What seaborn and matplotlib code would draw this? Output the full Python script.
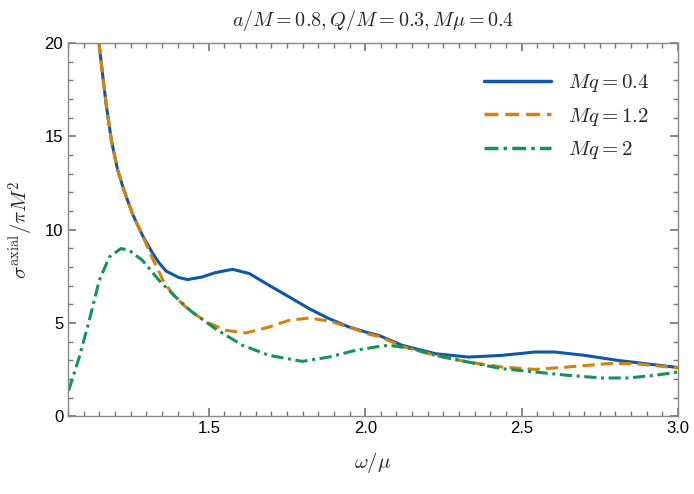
import numpy as np
import pandas as pd
import matplotlib
matplotlib.use('Agg')
import matplotlib.pyplot as plt
from matplotlib.ticker import MultipleLocator
import seaborn as sns

# values
x_q04 = [1.135, 1.148, 1.160, 1.173, 1.189, 1.208, 1.229, 1.256, 1.288, 1.311, 1.320, 1.342,
         1.364, 1.404, 1.432, 1.479, 1.521, 1.576, 1.630, 1.693, 1.757, 1.821, 1.884,
         1.948, 2.012, 2.044, 2.118, 2.224, 2.330, 2.436, 2.543, 2.606, 2.702, 2.808,
         2.914, 3.000]
y_q04 = [22.0, 20.16, 18.38, 16.59, 14.75, 13.25, 12.10, 10.85, 9.70, 9.02, 8.75, 8.20,
         7.78, 7.44, 7.33, 7.47, 7.70, 7.88, 7.65, 7.02, 6.40, 5.77, 5.24,
         4.79, 4.47, 4.34, 3.81, 3.36, 3.18, 3.27, 3.45, 3.45, 3.27, 3.00,
         2.79, 2.62]

x_q12 = [1.135, 1.148, 1.160, 1.173, 1.189, 1.208, 1.229, 1.256, 1.288, 1.311, 1.320, 1.354,
         1.383, 1.417, 1.447, 1.492, 1.555, 1.619, 1.693, 1.757, 1.821, 1.884, 1.948,
         2.012, 2.044, 2.118, 2.224, 2.330, 2.436, 2.543, 2.649, 2.777, 2.861, 3.000]
y_q12 = [22.0, 20.16, 18.38, 16.59, 14.75, 13.25, 12.10, 10.85, 9.70, 8.80, 8.47, 7.29,
         6.58, 6.00, 5.58, 5.06, 4.61, 4.47, 4.79, 5.15, 5.27, 5.11, 4.79,
         4.40, 4.29, 3.75, 3.27, 2.91, 2.65, 2.52, 2.65, 2.83, 2.83, 2.60]

x_q2 = [1.052, 1.086, 1.118, 1.150, 1.182, 1.219, 1.245, 1.288, 1.311, 1.341, 1.364, 1.394,
        1.443, 1.524, 1.608, 1.693, 1.799, 1.884, 1.969, 2.044, 2.075, 2.150,
        2.224, 2.330, 2.436, 2.543, 2.649, 2.756, 2.840, 2.925, 3.000]
y_q2 = [1.39, 3.18, 5.15, 7.29, 8.54, 8.99, 8.90, 8.36, 7.90, 7.29, 6.90, 6.40,
        5.64, 4.66, 3.81, 3.27, 2.95, 3.18, 3.54, 3.75, 3.81, 3.63,
        3.27, 2.91, 2.56, 2.38, 2.20, 2.06, 2.06, 2.20, 2.38]

labels = [r'$Mq=0.4$', r'$Mq=1.2$', r'$Mq=2$']
colors = ['#0f58a8', '#d4820a', '#14935a']

df = pd.concat([
    pd.DataFrame({'w': x_q04, 's': y_q04, 'case': labels[0]}),
    pd.DataFrame({'w': x_q12, 's': y_q12, 'case': labels[1]}),
    pd.DataFrame({'w': x_q2, 's': y_q2, 'case': labels[2]}),
])

sns.set_theme(style='ticks')
plt.rcParams['font.family'] = ['Liberation Sans', 'DejaVu Sans']
plt.rcParams['mathtext.fontset'] = 'cm'

fig, ax = plt.subplots(figsize=(6.94, 4.94), dpi=100)
sns.lineplot(data=df, x='w', y='s', hue='case', style='case', palette=colors,
             dashes=[(), (4, 2), (4, 1.5, 1, 1.5)], linewidth=2.2, sort=False,
             ax=ax, legend=True)
for ln in ax.get_lines():
    ln.set_solid_joinstyle('round')
    ln.set_dash_joinstyle('round')

ax.set_xlim(1.05, 3.0)
ax.set_ylim(0, 20)
ax.xaxis.set_major_locator(MultipleLocator(0.5))
ax.xaxis.set_minor_locator(MultipleLocator(0.05))
ax.yaxis.set_major_locator(MultipleLocator(5))
ax.yaxis.set_minor_locator(MultipleLocator(1))
ax.tick_params(which='both', direction='in', top=True, right=True, color='#777777',
               labelsize=12, labelcolor='black')
ax.tick_params(which='major', length=6)
ax.tick_params(which='minor', length=3.5)
for sp in ax.spines.values():
    sp.set_color('#888888')
    sp.set_linewidth(1)

ax.set_xlabel(r'$\omega/\mu$', fontsize=15, labelpad=10)
ax.set_ylabel(r'$\sigma^{\rm axial}/\pi M^2$', fontsize=15, labelpad=6)
ax.set_title(r'$a/M=0.8, Q/M=0.3, M\mu=0.4$', fontsize=14.5, pad=12)

leg = ax.legend(frameon=False, fontsize=15, loc='upper right', handlelength=3.2,
                labelspacing=0.55, borderaxespad=1.0)
for line in leg.get_lines():
    line.set_linewidth(2.5)

plt.subplots_adjust(left=0.098, right=0.977, top=0.913, bottom=0.157)
fig.savefig('out.png', dpi=100)
